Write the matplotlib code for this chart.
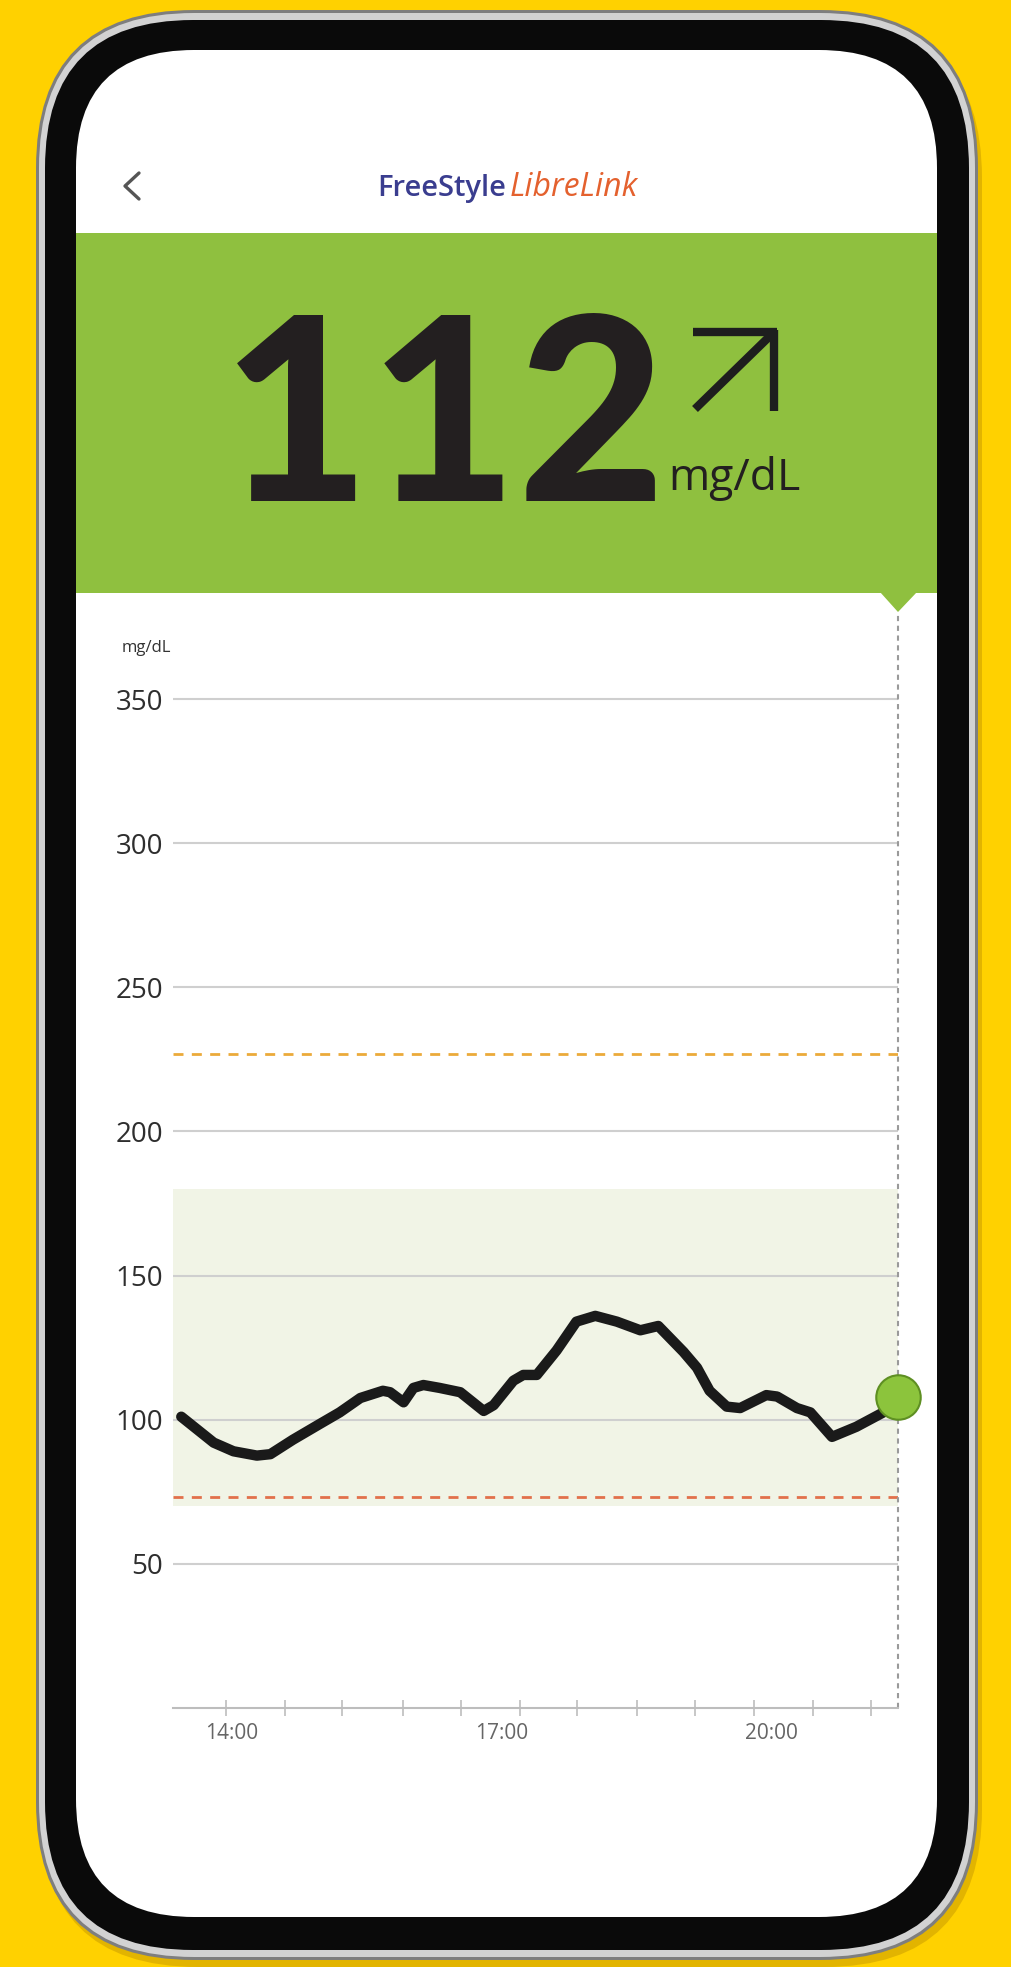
import matplotlib.pyplot as plt
from matplotlib.patches import FancyBboxPatch, Rectangle, Polygon

# Glucose readings (time in decimal hours, mg/dL)
times = [13.44, 13.80, 14.02, 14.28, 14.43, 14.68, 14.98, 15.20, 15.43, 15.68,
         15.76, 15.91, 16.02, 16.13, 16.31, 16.54, 16.80, 16.91, 17.13, 17.24,
         17.39, 17.61, 17.83, 18.04, 18.28, 18.54, 18.74, 19.02, 19.17, 19.31,
         19.50, 19.65, 19.94, 20.06, 20.28, 20.43, 20.67, 20.94, 21.24, 21.40]
glucose = [101, 92, 89, 87.5, 88, 93, 98.5, 102.5, 107.5, 110,
           109.5, 106, 111, 112, 111, 109.5, 103, 105, 113.5, 115.5,
           115.5, 124, 134, 136, 134, 131, 132.5, 123.5, 118, 110,
           104.5, 104, 108.5, 108, 104, 102.5, 94, 97.5, 102.5, 108]

current_reading = "112"
unit = "mg/dL"
y_ticks = [50, 100, 150, 200, 250, 300, 350]
target_range = [70, 180]
low_line = 73
high_line = 227
label_hours = [14, 17, 20]
time_labels = ["14:00", "17:00", "20:00"]
minor_hours = [13.94, 14.59, 15.23, 15.90, 16.55, 17.20, 17.84, 18.50,
               19.15, 19.80, 20.46, 21.10]

W, H = 1012, 1967
fig = plt.figure(figsize=(W / 100, H / 100), dpi=100)
fig.patch.set_facecolor("#FFD100")

# background layer in pixel coordinates (phone frame, header)
bg = fig.add_axes([0, 0, 1, 1])
bg.set_xlim(0, W)
bg.set_ylim(H, 0)
bg.axis("off")


def rounded(x0, y0, x1, y1, r, color, z):
    bg.add_patch(FancyBboxPatch((x0, y0), x1 - x0, y1 - y0,
                                boxstyle=f"round,pad=0,rounding_size={r}",
                                fc=color, ec="none", zorder=z))


rounded(40, 20, 982, 1967, 158, "#E2B400", 0)   # shadow
rounded(36, 10, 978, 1960, 158, "#7E7E7E", 1)
rounded(39, 13, 975, 1957, 155, "#D2D2D2", 2)
rounded(45, 20, 969, 1950, 148, "#0A0A0A", 3)
rounded(76, 50, 937, 1917, 118, "white", 4)

# green header band with notch
bg.add_patch(Rectangle((76, 233), 861, 360, fc="#8FC03F", ec="none", zorder=5))
bg.add_patch(Polygon([(880, 592), (917, 592), (898, 612)], closed=True,
                     fc="#8FC03F", ec="none", zorder=5))

# back chevron
bg.plot([139, 125, 139], [173, 186, 199], color="#555555", lw=2.4, zorder=6,
        solid_capstyle="round")

# logo
bg.text(506, 196, "FreeStyle", ha="right", va="baseline", fontsize=21,
        color="#3A3D8F", weight="semibold",
        family=["Open Sans", "DejaVu Sans"], zorder=6)
bg.text(510, 196, "LibreLink", ha="left", va="baseline", fontsize=23,
        color="#E4612E", style="italic", family=["Open Sans", "DejaVu Sans"],
        zorder=6)

# big reading
bg.text(667, 501, current_reading, ha="right", va="baseline", fontsize=184,
        weight="black", color="#231F20", family=["Lato", "DejaVu Sans"],
        zorder=6)
bg.text(668, 490, unit, ha="left", va="baseline", fontsize=32,
        color="#231F20", family=["Open Sans", "DejaVu Sans"], zorder=6)

# trend arrow
arrow_kw = dict(color="#1E1E1E", lw=6, zorder=6, solid_capstyle="butt")
bg.plot([695, 772], [409, 334], **arrow_kw)
bg.plot([693, 777], [332, 332], **arrow_kw)
bg.plot([774, 774], [329.8, 411], **arrow_kw)

# small unit label above the chart
bg.text(146, 648, unit, ha="center", va="center", fontsize=12,
        color="#333333", family=["Open Sans", "DejaVu Sans"], zorder=6)

# glucose chart
ax_left, ax_right = 173, 897.7
ax_top, ax_bottom = 612.9, 1707.7
ax = fig.add_axes([ax_left / W, 1 - ax_bottom / H,
                   (ax_right - ax_left) / W, (ax_bottom - ax_top) / H])
ax.set_facecolor("none")
ax.set_xlim(13.348, times[-1])
ax.set_ylim(0, 380)

for s in ["top", "left", "right"]:
    ax.spines[s].set_visible(False)
ax.spines["bottom"].set_color("#BDBDBD")
ax.spines["bottom"].set_linewidth(1.5)

ax.axhspan(target_range[0], target_range[1], color="#F1F4E6", lw=0, zorder=0)
ax.set_yticks(y_ticks)
ax.yaxis.grid(True, color="#CFCFCF", lw=1.5, zorder=1)
ax.tick_params(axis="y", length=0, pad=7, labelsize=20, labelcolor="#2E2E2E")
for t in ax.get_yticklabels():
    t.set_family(["Open Sans", "DejaVu Sans"])

ax.set_xticks(label_hours)
ax.set_xticklabels(time_labels)
ax.set_xticks(minor_hours, minor=True)
ax.tick_params(axis="x", which="major", length=0, pad=11, labelsize=15,
               labelcolor="#666666")
ax.tick_params(axis="x", which="minor", length=11, width=1.2,
               direction="inout", color="#BDBDBD")
for t in ax.get_xticklabels():
    t.set_family(["Open Sans", "DejaVu Sans"])

ax.axhline(high_line, color="#EBAA3A", lw=2, ls=(0, (3.6, 3.0)), zorder=2)
ax.axhline(low_line, color="#E2704B", lw=2, ls=(0, (3.6, 3.0)), zorder=2)
ax.axvline(times[-1], color="#9A9A9A", lw=1.5, ls=(0, (2.5, 2.2)),
           clip_on=False, zorder=2)

ax.plot(times, glucose, color="#1A1A1A", lw=7.5, solid_joinstyle="round",
        solid_capstyle="round", zorder=3)
ax.plot(times[-1], glucose[-1], "o", ms=32, mfc="#8CC43C", mec="#5E8F22",
        mew=1.5, clip_on=False, zorder=4)

fig.savefig("out.png", dpi=100, facecolor=fig.get_facecolor())
